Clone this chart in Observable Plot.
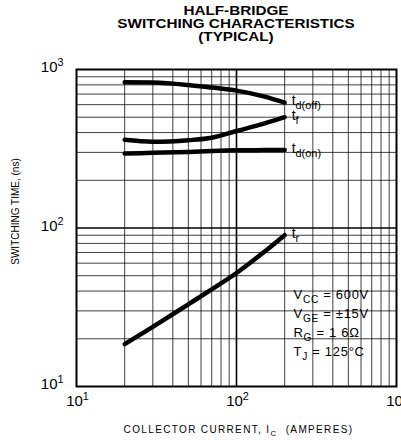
<!DOCTYPE html>
<html><head><meta charset="utf-8">
<script src="https://cdn.jsdelivr.net/npm/d3@7"></script>
<script src="https://cdn.jsdelivr.net/npm/@observablehq/plot@0.6"></script>
<style>
body{margin:0;background:#fff;font-family:"Liberation Sans",Arial,sans-serif;}
#title{width:401px;height:48px;box-sizing:border-box;padding:5px 5px 0 76px;text-align:center;font-family:"Liberation Sans",Arial,sans-serif;font-weight:bold;font-size:12.5px;line-height:13px;color:#000;transform:scaleX(1.22);transform-origin:236px 0;}
</style></head><body>
<div id="title">HALF-BRIDGE<br>SWITCHING CHARACTERISTICS<br>(TYPICAL)</div>
<div id="chart"></div>
<script>
// ---- data ----
const currents = [20, 30, 50, 70, 100, 150, 200];           // I_C (A)
const tdOff = [830, 827, 798, 769, 736, 675, 618];           // ns
const tF    = [360, 350, 358, 371, 409, 457, 500];           // ns
const tdOn  = [295, 298, 302, 306, 309, 310, 310];           // ns
const tR    = [18.5, 23.8, 33, 41, 52, 71, 90];              // ns
const seriesNames = ["t_{d(off)}", "t_{f}", "t_{d(on)}", "t_{r}"];
const majorTicks = [10, 100, 1000];
const minorTicks = [20, 30, 40, 50, 60, 70, 80, 90, 200, 300, 400, 500, 600, 700, 800, 900];
const conditions = ["V_{CC} = 600V", "V_{GE} = ±15V", "R_{G} = 1 6Ω", "T_{J} = 125°C"];
const xTitle = "COLLECTOR CURRENT, I_{C}  (AMPERES)";
const yTitle = "SWITCHING TIME, (ns)";

const seriesValues = [tdOff, tF, tdOn, tR];
const rows = [];
seriesValues.forEach((vals, k) => currents.forEach((c, i) => rows.push({name: seriesNames[k], x: c, y: vals[i]})));
const lastPts = seriesValues.map((vals, k) => ({name: seriesNames[k], x: currents[currents.length - 1], y: vals[vals.length - 1]}));

const powFmt = d => "10^{" + Math.round(Math.log10(d)) + "}";

const condMarks = conditions.map((c, i) => Plot.text([c], {
  frameAnchor: "bottom-right", textAnchor: "start", lineAnchor: "middle",
  dx: -103, dy: -92 + i * 19, fontSize: 13, fill: "#000", className: "cond"
}));

const chart = Plot.plot({
  width: 401, height: 392,
  marginTop: 21, marginBottom: 54, marginLeft: 76, marginRight: 5,
  style: {fontFamily: "'Liberation Sans', Arial, sans-serif", background: "#fff", color: "#000"},
  x: {type: "log", domain: [10, 1000]},
  y: {type: "log", domain: [10, 1000]},
  marks: [
    Plot.ruleX(minorTicks, {stroke: "#000", strokeWidth: 1, strokeOpacity: 0.75}),
    Plot.ruleY(minorTicks, {stroke: "#000", strokeWidth: 1, strokeOpacity: 0.75}),
    Plot.ruleX([100], {stroke: "#000", strokeWidth: 1.6}),
    Plot.ruleY([100], {stroke: "#000", strokeWidth: 1.6}),
    Plot.axisX(majorTicks, {tickSize: 0, tickPadding: 9, fontSize: 15, dx: 1, tickFormat: powFmt, label: null}),
    Plot.axisY(majorTicks, {tickSize: 0, tickPadding: 13, fontSize: 15, dy: -2, tickFormat: powFmt, label: null}),
    Plot.frame({stroke: "#000", strokeWidth: 2}),
    Plot.line(rows, {x: "x", y: "y", z: "name", stroke: "#000", strokeWidth: 4.5, curve: "monotone-x"}),
    Plot.text(lastPts, {x: "x", y: "y", text: "name", textAnchor: "start", dx: 7, dy: -2, fontSize: 14, fill: "#000"}),
    ...condMarks,
    Plot.text([xTitle], {frameAnchor: "bottom", textAnchor: "middle", lineAnchor: "middle", dx: 2, dy: 43, fontSize: 10, fill: "#000", className: "xtitle"}),
    Plot.text([yTitle], {frameAnchor: "left", textAnchor: "middle", lineAnchor: "middle", rotate: -90, dx: -61, dy: -16.5, fontSize: 10, fill: "#000"})
  ]
});
document.getElementById("chart").appendChild(chart);
d3.select(chart).selectAll(".xtitle text").style("letter-spacing", "1.35px").style("white-space", "pre");
d3.select(chart).selectAll(".cond text").style("letter-spacing", "0.7px");

// turn _{..} and ^{..} into sub/superscript tspans
const NS = "http://www.w3.org/2000/svg";
d3.select(chart).selectAll("text").each(function() {
  const el = this;
  const t = el.textContent;
  if (!/[_^]\{/.test(t)) return;
  const fs = parseFloat(getComputedStyle(el).fontSize) || 12;
  const re = /([_^])\{([^}]*)\}/g;
  const parts = [];
  let last = 0, m;
  while ((m = re.exec(t))) {
    if (m.index > last) parts.push({type: "n", s: t.slice(last, m.index)});
    parts.push({type: m[1] === "_" ? "sub" : "sup", s: m[2]});
    last = re.lastIndex;
  }
  if (last < t.length) parts.push({type: "n", s: t.slice(last)});
  el.textContent = "";
  let cur = 0;
  for (const p of parts) {
    const ts = document.createElementNS(NS, "tspan");
    const target = p.type === "sub" ? 0.3 * fs : p.type === "sup" ? -0.4 * fs : 0;
    if (target !== cur) ts.setAttribute("dy", (target - cur) + "px");
    cur = target;
    if (p.type !== "n") ts.setAttribute("font-size", (p.type === "sup" ? 0.72 : 0.78) * fs + "px");
    ts.textContent = p.s;
    el.appendChild(ts);
  }
});
</script>
</body></html>
